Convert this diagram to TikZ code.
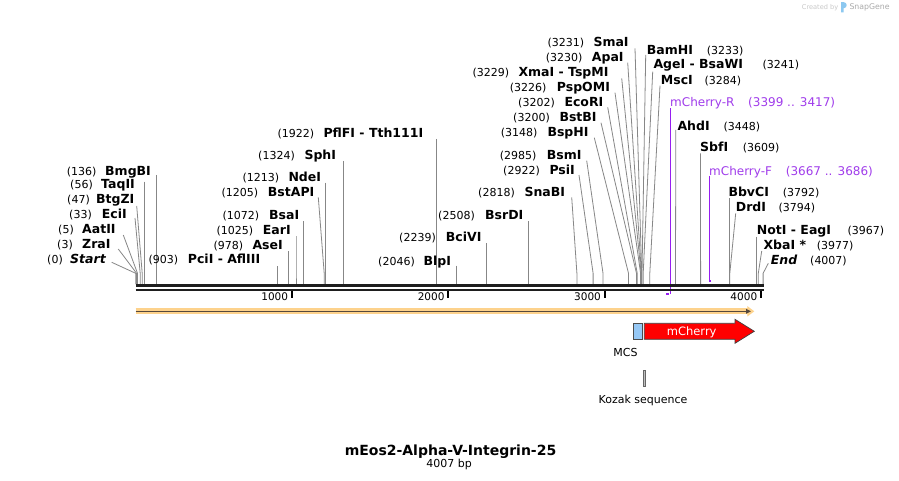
\documentclass[tikz,border=0pt]{standalone}
\usepackage{fontspec}
\setmainfont{DejaVu Sans}[ItalicFont={DejaVu Sans Oblique},BoldFont={DejaVu Sans Bold},BoldItalicFont={DejaVu Sans Bold Oblique}]
\usetikzlibrary{arrows.meta}
\definecolor{cutgray}{RGB}{135,135,135}
\definecolor{barblack}{RGB}{30,30,30}
\definecolor{primerline}{RGB}{150,30,240}
\definecolor{primertext}{RGB}{160,60,235}
\definecolor{bandorange}{RGB}{253,210,140}
\definecolor{banddark}{RGB}{85,72,60}
\definecolor{mcsblue}{RGB}{150,200,245}
\definecolor{featred}{RGB}{255,0,0}
\definecolor{logogray}{RGB}{200,200,200}
\definecolor{logotext}{RGB}{170,170,170}
\definecolor{logoblue}{RGB}{140,200,240}
\tikzset{
  numlab/.style={inner sep=0pt, font=\fontsize{11}{13}\selectfont},
  enzlab/.style={inner sep=0pt, font=\fontsize{12.5}{14}\selectfont\bfseries},
  primerlab/.style={inner sep=0pt, text=primertext, font=\fontsize{12}{14}\selectfont},
  ticklab/.style={inner sep=0pt, font=\fontsize{10.5}{12}\selectfont},
  featlab/.style={inner sep=0pt, font=\fontsize{11}{13}\selectfont},
  cutline/.style={draw=cutgray, line width=0.8pt},
  primerstroke/.style={draw=primerline, line width=1.2pt},
  tickmark/.style={draw=black, line width=2pt},
}
% left-style site: id, number, name, number east x, name west x, y centre, line start x, line start y, bar x
\newcommand{\SiteL}[9]{%
  \node[numlab, anchor=base east] (#1n) at (#4,#6+4.5) {#2};
  \node[enzlab, anchor=base west] (#1) at (#5,#6+4.5) {#3};
  \coordinate (#1s) at (#7,#8);
  \coordinate (#1k) at (#9,273.3);
  \coordinate (#1b) at (#9,284);
  \draw[cutline] (#1s) -- (#1k) -- (#1b);
}
% right-style site: id, name, number, name west x, number west x, y centre, line start x, line start y, bar x
\newcommand{\SiteR}[9]{%
  \node[enzlab, anchor=base west] (#1) at (#4,#6+4.5) {#2};
  \node[numlab, anchor=base west] (#1n) at (#5,#6+4.5) {#3};
  \coordinate (#1s) at (#7,#8);
  \coordinate (#1k) at (#9,273.3);
  \coordinate (#1b) at (#9,284);
  \draw[cutline] (#1s) -- (#1k) -- (#1b);
}
\begin{document}
\begin{tikzpicture}[x=1pt,y=-1pt]
\fill[white] (0,0) rectangle (899,481);
\useasboundingbox (0,0) rectangle (899,481);

% logo
\node[inner sep=0pt, anchor=base west, text=logogray, font=\fontsize{6.6}{8}\selectfont] (createdby) at (801.7,9.1) {Created by};
\fill[logoblue] (841,12.5) -- (841,2.2) -- (843.8,2.2) .. controls (847.6,2.2) and (847.6,8.2) .. (843.8,8.2) -- (843.6,8.2) -- (843.6,12.5) -- cycle;
\node[inner sep=0pt, anchor=base west, text=logotext, font=\fontsize{7.8}{9}\selectfont] (snapgene) at (849.3,9.6) {SnapGene};

% sites, left-style labels
\SiteL{sStart}{(0)}{\itshape Start}{63}{70}{259.3}{111.7}{262.3}{135.7}
\SiteL{sZraI}{(3)}{ZraI}{73}{82}{244.3}{118.3}{249}{136.6}
\SiteL{sAatII}{(5)}{AatII}{74}{82}{229.3}{123.3}{235}{137.5}
\SiteL{sEciI}{(33)}{EciI}{92}{101.7}{214}{135}{218}{140.2}
\SiteL{sBtgZI}{(47)}{BtgZI}{90}{96}{199.3}{136.7}{206}{142.2}
\SiteL{sTaqII}{(56)}{TaqII}{93}{101}{184.3}{144.3}{181.7}{144.3}
\SiteL{sBmgBI}{(136)}{BmgBI}{96.7}{105}{170.7}{156.8}{175}{156.8}
\SiteL{sPciI}{(903)}{PciI - AflIII}{178.3}{187.7}{259.3}{276.9}{266}{276.9}
\SiteL{sAseI}{(978)}{AseI}{243.3}{252.3}{245}{288.7}{251}{288.7}
\SiteL{sEarI}{(1025)}{EarI}{253.3}{262.7}{230}{296}{236}{296}
\SiteL{sBsaI}{(1072)}{BsaI}{259.3}{269}{215}{303.4}{221}{303.4}
\SiteL{sBstAPI}{(1205)}{BstAPI}{258.3}{267.7}{191.7}{318.3}{197.3}{324.2}
\SiteL{sNdeI}{(1213)}{NdeI}{279.3}{288.3}{176.7}{325.6}{182.7}{325.6}
\SiteL{sSphI}{(1324)}{SphI}{295}{304.3}{155}{342.9}{161}{342.9}
\SiteL{sPflFI}{(1922)}{PflFI - Tth111I}{314.3}{323.3}{132.7}{436.5}{139}{436.5}
\SiteL{sBlpI}{(2046)}{BlpI}{415}{423.3}{260.7}{455.9}{265.7}{455.9}
\SiteL{sBciVI}{(2239)}{BciVI}{436}{445.7}{236.7}{486.2}{243.3}{486.2}
\SiteL{sBsrDI}{(2508)}{BsrDI}{475}{485}{215}{528.3}{221}{528.3}
\SiteL{sSnaBI}{(2818)}{SnaBI}{515}{524.3}{191.7}{571.7}{197.3}{576.9}
\SiteL{sPsiI}{(2922)}{PsiI}{540}{549.3}{170}{579}{175}{593.1}
\SiteL{sBsmI}{(2985)}{BsmI}{536.7}{546.7}{155}{586.7}{160.7}{603}
\SiteL{sBspHI}{(3148)}{BspHI}{537.7}{547.3}{131.7}{594.3}{137.7}{628.5}
\SiteL{sBstBI}{(3200)}{BstBI}{550}{559.3}{116.7}{601}{122.7}{636.5}
\SiteL{sEcoRI}{(3202)}{EcoRI}{555}{564.3}{101.7}{607.7}{107.3}{637.2}
\SiteL{sPspOMI}{(3226)}{PspOMI}{546.7}{556.7}{86.7}{615}{92.7}{640.6}
\SiteL{sXmaI}{(3229)}{XmaI - TspMI}{509.3}{518.3}{71.7}{621.7}{78.3}{641.1}
\SiteL{sApaI}{(3230)}{ApaI}{582.7}{591.7}{56.7}{627.7}{62.7}{641.4}
\SiteL{sSmaI}{(3231)}{SmaI}{584.3}{593.3}{41.7}{635}{48.3}{641.7}

% sites, right-style labels
\SiteR{sBamHI}{BamHI}{(3233)}{646.7}{706.7}{50}{645.7}{55}{642}
\SiteR{sAgeI}{AgeI - BsaWI}{(3241)}{653.3}{762.3}{64.3}{652.7}{71.7}{643.2}
\SiteR{sMscI}{MscI}{(3284)}{660.7}{704.3}{80}{660}{85.7}{649.8}
\SiteR{sAhdI}{AhdI}{(3448)}{677.3}{723.3}{125.7}{675.8}{130}{675.5}
\SiteR{sSbfI}{SbfI}{(3609)}{700}{742.7}{146.7}{700.5}{153.3}{700.6}
\SiteR{sBbvCI}{BbvCI}{(3792)}{728.3}{782.7}{192.3}{729}{198.3}{729}
\SiteR{sDrdI}{DrdI}{(3794)}{735.7}{778.3}{207.3}{735.7}{213.3}{729.8}
\SiteR{sNotI}{NotI - EagI}{(3967)}{756.7}{847.3}{230}{756.8}{236.7}{756.8}
\SiteR{sXbaI}{XbaI *}{(3977)}{763.3}{816.7}{245}{761.7}{251}{758.3}
\SiteR{sEnd}{\itshape End}{(4007)}{770.7}{810}{260}{768.3}{263.3}{763.1}

% primers
\node[primerlab, anchor=base west] (pR) at (670,106.2) {mCherry-R};
\node[primerlab, anchor=base west] (pRn) at (748,106.2) {(3399 .. 3417)};
\coordinate (pRtop) at (670.3,108.3);
\coordinate (pRbot) at (670.3,293.5);
\draw[primerstroke] (pRtop) -- (pRbot);
\fill[primerline] (666.4,293.2) rectangle (668.6,295.4);

\node[primerlab, anchor=base west] (pF) at (709,175.2) {mCherry-F};
\node[primerlab, anchor=base west] (pFn) at (785.7,175.2) {(3667 .. 3686)};
\coordinate (pFtop) at (709.7,176);
\coordinate (pFbot) at (709.7,280.5);
\draw[primerstroke] (pFtop) -- (pFbot);
\fill[primerline] (708.6,279.8) rectangle (710.8,282);

% sequence bar
\coordinate (barL) at (135.5,285.5);
\coordinate (barR) at (763.5,285.5);
\coordinate (barL2) at (135.5,289.7);
\coordinate (barR2) at (763.5,289.7);
\draw[barblack, line width=3pt] (barL) -- (barR);
\draw[barblack, line width=2.3pt] (barL2) -- (barR2);

% ticks
\foreach \tx/\tl in {291.8/1000, 448.2/2000, 604.6/3000, 760.9/4000}{
  \draw[tickmark] (\tx,290.8) -- (\tx,298);
  \node[ticklab, anchor=base east] (tick\tl) at (\tx-3.5,300.5) {\tl};
}

% orange ORF band
\coordinate (bandL) at (135.5,311.3);
\coordinate (bandR) at (754.3,311.3);
\coordinate (bandT) at (751,311.3);
\draw[bandorange, line width=5.8pt, -{Triangle[length=7pt,width=10pt]}] (bandL) -- (bandR);
\draw[banddark, line width=1.6pt, -{Triangle[length=5pt,width=4.6pt]}] (bandL) -- (bandT);

% features
\node[draw=black!70, fill=mcsblue, line width=0.7pt, minimum width=9.4pt, minimum height=16pt, inner sep=0pt] (mcs) at (638,331.3) {};
\draw[fill=featred, draw=black!75, line width=0.7pt]
  (644.3,323.3) -- (735,323.3) -- (735,319.3) -- (754.3,331.3) -- (735,343.3) -- (735,339.3) -- (644.3,339.3) -- cycle;
\node[inner sep=0pt, anchor=base, text=white, font=\fontsize{11.5}{13}\selectfont] (mcherry) at (691.7,335.3) {mCherry};
\node[featlab, anchor=base] (mcslab) at (625.5,356.5) {MCS};
\node[draw=black!60, fill=black!25, line width=0.6pt, minimum width=2.8pt, minimum height=16pt, inner sep=0pt] (kozak) at (644.3,378) {};
\node[featlab, anchor=base] (kozaklab) at (643,403) {Kozak sequence};

% title
\node[inner sep=0pt, anchor=base, font=\fontsize{14}{16}\selectfont\bfseries] (title) at (450.5,455.8) {mEos2-Alpha-V-Integrin-25};
\node[inner sep=0pt, anchor=base, font=\fontsize{11}{13}\selectfont] (length) at (449.2,467.3) {4007 bp};
\end{tikzpicture}
\end{document}
